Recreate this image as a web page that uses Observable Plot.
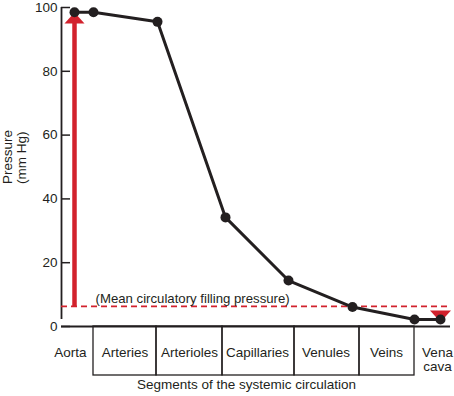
<!DOCTYPE html>
<html><head><meta charset="utf-8">
<script src="https://cdn.jsdelivr.net/npm/d3@7"></script>
<script src="https://cdn.jsdelivr.net/npm/@observablehq/plot@0.6"></script>
<style>
body{margin:0;background:#fff}
svg{display:block}
</style>
</head><body><div id="chart"></div>
<script>
// Segments of the systemic circulation (x positions in arbitrary "distance" units)
const segments = ["Aorta", "Arteries", "Arterioles", "Capillaries", "Venules", "Veins", "Vena\ncava"];
const segmentLabelPos = [9, 63.5, 128, 196, 264.5, 325, 376];
const boxEdges = [32, 95, 161, 233, 298, 353];
// Pressure profile (mm Hg)
const pointPos = [13, 32, 96, 164, 227, 291, 353, 379];
const pressure = [98.5, 98.5, 95.5, 34.2, 14.4, 6.1, 2.2, 2.2];
const meanFillingPressure = 6.3;
const yTicks = [0, 20, 40, 60, 80, 100];
const xDomain = [0, 389];

const points = pointPos.map((x, i) => ({x, y: pressure[i]}));
const boxes = boxEdges.slice(0, -1).map((x1, i) => ({x1, x2: boxEdges[i + 1]}));

const red = "#d2222d";
const ink = "#231f20";
const font = "'Liberation Sans', Arial, Helvetica, sans-serif";

function flatTriangle(dir) {
  return {
    draw(context, size) {
      const r = Math.sqrt(size / Math.PI);
      const h = r * 0.55;
      context.moveTo(0, -dir * h);
      context.lineTo(r, dir * h);
      context.lineTo(-r, dir * h);
      context.closePath();
    }
  };
}

const chart = Plot.plot({
  width: 454,
  height: 396,
  marginLeft: 61,
  marginRight: 4,
  marginTop: 7,
  marginBottom: 70,
  style: {fontFamily: font, fontSize: "13.5px", color: ink, background: "#fff"},
  x: {domain: xDomain, axis: null},
  y: {domain: [0, 100], ticks: yTicks, label: null},
  marks: [
    Plot.axisY({ticks: yTicks, tickSize: 0, tickPadding: 4, fontSize: 13.5, fill: ink}),
    Plot.ruleY(yTicks, {x1: xDomain[0], x2: xDomain[0], insetRight: -9, stroke: ink, strokeWidth: 1.5}),
    Plot.ruleX([xDomain[0]], {y1: 0, y2: 100, insetTop: -7, stroke: ink, strokeWidth: 1.8}),
    Plot.ruleY([0], {x1: xDomain[0], x2: xDomain[1], stroke: ink, strokeWidth: 1.8}),
    Plot.rect(boxes, {x1: "x1", x2: "x2", y1: 0, y2: 0, insetBottom: -49, fill: "none", stroke: ink, strokeWidth: 1.3}),
    Plot.text(segments, {x: (d, i) => segmentLabelPos[i], text: d => d, frameAnchor: "bottom", lineAnchor: "top", dy: 20, lineHeight: 1.05, fill: ink, fontSize: 13.5}),
    Plot.text(["Segments of the systemic circulation"], {frameAnchor: "bottom", dx: -9.5, dy: 62, fill: ink, fontSize: 13.5}),
    Plot.text(["Pressure\n(mm Hg)"], {frameAnchor: "left", rotate: -90, dx: -47, dy: 17, lineHeight: 1.05, fill: ink, fontSize: 13.5}),
    // mean circulatory filling pressure
    Plot.ruleY([meanFillingPressure], {x1: xDomain[0], x2: xDomain[1], stroke: red, strokeWidth: 1.6, strokeDasharray: "6,4"}),
    Plot.text(["(Mean circulatory filling pressure)"], {x: 34, y: meanFillingPressure, textAnchor: "start", lineAnchor: "bottom", dy: -3, fill: ink, fontSize: 13.2}),
    // red arrows
    Plot.ruleX([pointPos[0]], {y1: meanFillingPressure, y2: 95, stroke: red, strokeWidth: 4.5}),
    Plot.dot([{x: pointPos[0], y: 96.7}], {x: "x", y: "y", r: 10, symbol: flatTriangle(1), fill: red, stroke: "none"}),
    Plot.dot([{x: pointPos[pointPos.length - 1], y: 3.2}], {x: "x", y: "y", r: 10.5, symbol: flatTriangle(-1), fill: red, stroke: "none"}),
    // pressure line
    Plot.line(points, {x: "x", y: "y", stroke: ink, strokeWidth: 3, strokeLinejoin: "round"}),
    Plot.dot(points, {x: "x", y: "y", r: 5, fill: ink, stroke: "none"})
  ]
});
document.getElementById("chart").appendChild(chart);
</script>
</body></html>
